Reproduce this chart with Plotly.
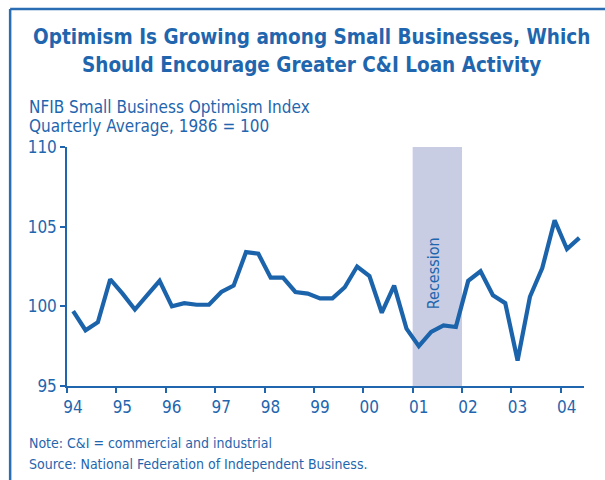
import plotly.graph_objects as go

# NFIB Small Business Optimism Index, quarterly averages, 1994:Q1 - 2004:Q2
quarters = [f"{y}Q{q}" for y in range(1994, 2005) for q in range(1, 5)][:42]
index_values = [
    99.7, 98.5, 99.0, 101.7, 100.8, 99.8, 100.7, 101.6,
    100.0, 100.2, 100.1, 100.1, 100.9, 101.3, 103.4, 103.3,
    101.8, 101.8, 100.9, 100.8, 100.5, 100.5, 101.2, 102.5,
    101.9, 99.6, 101.3, 98.6, 97.5, 98.4, 98.8, 98.7,
    101.6, 102.2, 100.7, 100.2, 96.6, 100.6, 102.4, 105.4,
    103.6, 104.3,
]
year_ticks = list(range(1994, 2005))
year_labels = ["94", "95", "96", "97", "98", "99", "00", "01", "02", "03", "04"]
recession = (2001, 2002)
y_ticks = [95, 100, 105, 110]

title_lines = [
    "Optimism Is Growing among Small Businesses, Which",
    "Should Encourage Greater C&amp;I Loan Activity",
]
subtitle_lines = ["NFIB Small Business Optimism Index", "Quarterly Average, 1986 = 100"]
footnote_lines = [
    "Note: C&amp;I = commercial and industrial",
    "Source: National Federation of Independent Business.",
]

BLUE = "#1b63aa"
TEXT = "#1f66ae"
BAND = "#c9cde4"
FONT = "DejaVu Sans Condensed, Roboto, sans-serif"

# place each quarter at its midpoint on a fractional-year axis
x_vals = [int(q[:4]) + (int(q[-1]) - 0.5) / 4 for q in quarters]

fig = go.Figure()
fig.add_trace(go.Scatter(
    x=x_vals, y=index_values, mode="lines",
    line=dict(color=BLUE, width=4.2), hoverinfo="skip", showlegend=False,
))

fig.add_shape(type="rect", xref="x", yref="y",
              x0=recession[0], x1=recession[1], y0=95, y1=110,
              fillcolor=BAND, line_width=0, layer="below")
fig.add_annotation(x=(recession[0] + recession[1]) / 2 - 0.08, y=102.1,
                   xref="x", yref="y", text="Recession", textangle=-90,
                   showarrow=False, font=dict(family=FONT, size=16, color=TEXT))

# frame along the top and left edges
FRAME_X, FRAME_Y = -0.110, 1.577
fig.add_shape(type="line", xref="paper", yref="paper", x0=FRAME_X, x1=1.2,
              y0=FRAME_Y, y1=FRAME_Y, line=dict(color="#2a6db3", width=2.5))
fig.add_shape(type="line", xref="paper", yref="paper", x0=FRAME_X, x1=FRAME_X,
              y0=-0.45, y1=FRAME_Y, line=dict(color="#2a6db3", width=2.5))

for text, y in zip(title_lines, [1.460, 1.343]):
    fig.add_annotation(xref="paper", yref="paper", x=0.472, y=y,
                       text=f"<b>{text}</b>", showarrow=False,
                       xanchor="center", yanchor="middle",
                       font=dict(family=FONT, size=20.5, color=TEXT))
for text, y in zip(subtitle_lines, [1.167, 1.088]):
    fig.add_annotation(xref="paper", yref="paper", x=-0.078, y=y,
                       text=text, showarrow=False, xanchor="left", yanchor="middle",
                       font=dict(family=FONT, size=17, color=TEXT))
for text, y in zip(footnote_lines, [-0.2385, -0.326]):
    fig.add_annotation(xref="paper", yref="paper", x=-0.078, y=y,
                       text=text, showarrow=False, xanchor="left", yanchor="middle",
                       font=dict(family=FONT, size=14, color=TEXT))

fig.update_xaxes(range=[1994, 2004.47], tickvals=year_ticks, ticktext=year_labels,
                 ticks="outside", ticklen=5, tickcolor=TEXT, tickwidth=1.5,
                 showline=True, linecolor=TEXT, linewidth=1.5, showgrid=False,
                 zeroline=False, ticklabelshift=6,
                 tickfont=dict(family=FONT, size=17, color=TEXT))
fig.update_yaxes(range=[95, 110], tickvals=y_ticks,
                 ticks="outside", ticklen=5, tickcolor=TEXT, tickwidth=1.5,
                 showline=True, linecolor=TEXT, linewidth=1.5, showgrid=False,
                 zeroline=False,
                 tickfont=dict(family=FONT, size=17, color=TEXT))

fig.update_layout(width=605, height=480,
                  margin=dict(l=67, r=21, t=147, b=94),
                  paper_bgcolor="white", plot_bgcolor="white")

fig.write_html("out.html")
